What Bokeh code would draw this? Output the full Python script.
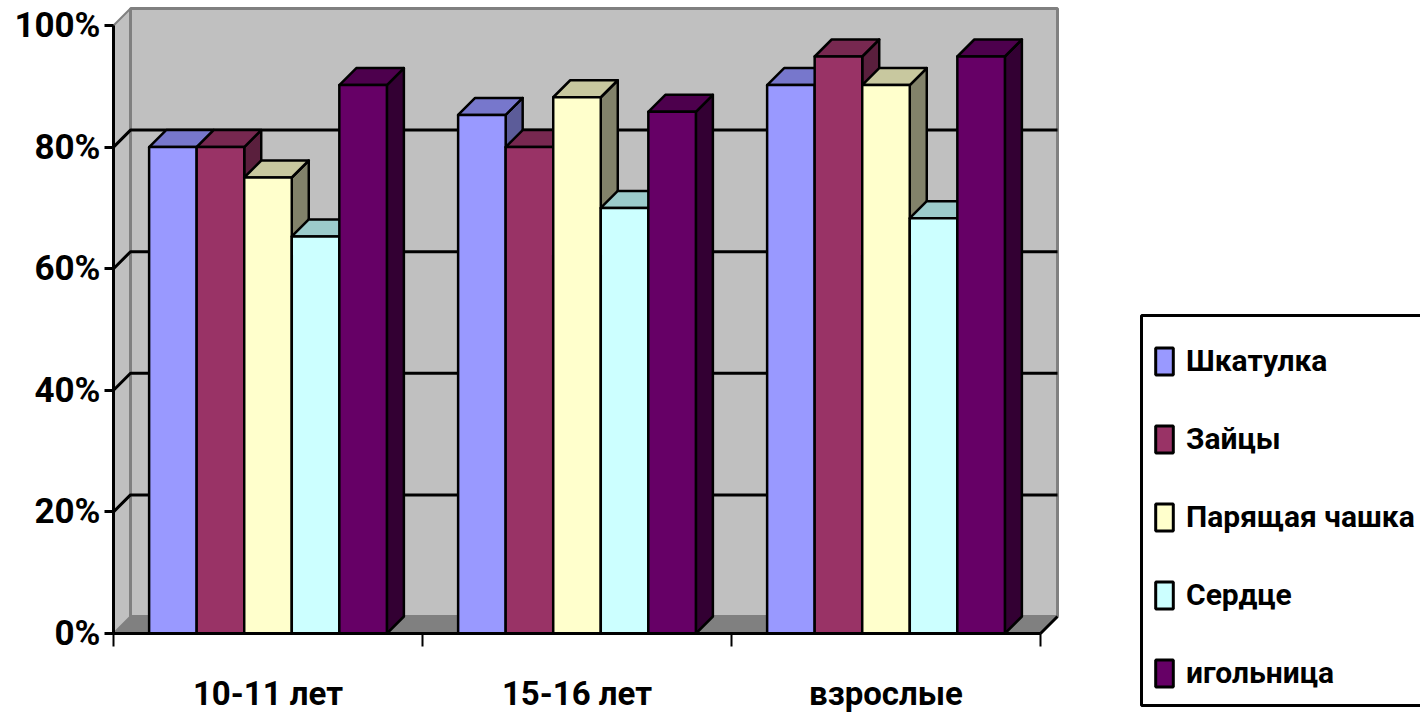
from bokeh.plotting import figure
from bokeh.embed import file_html
from bokeh.resources import INLINE
from bokeh.models import Legend, LegendItem, LinearAxis, FixedTicker, Range1d, BoxAnnotation

categories = ["10-11 лет", "15-16 лет", "взрослые"]
series = ["Шкатулка", "Зайцы", "Парящая чашка", "Сердце", "игольница"]
shkatulka = [80, 85.3, 90.2]
zaitsy = [80, 80, 94.9]
chashka = [75, 88.2, 90.2]
serdtse = [65.3, 70, 68.3]
igolnitsa = [90.2, 85.8, 94.9]
values = [shkatulka, zaitsy, chashka, serdtse, igolnitsa]
y_ticks = [0, 20, 40, 60, 80, 100]
front_colors = ["#9999FF", "#993366", "#FFFFCC", "#CCFFFF", "#660066"]
top_colors = ["#7777CC", "#772850", "#C8C89F", "#9CCBCB", "#4D004D"]
side_colors = ["#5C5C99", "#5A1F3D", "#82826A", "#7A9999", "#330033"]

FONT = "Roboto"
PX_X, PX_Y = 309.0, 6.08       # pixels per category, per percent
DX, DY = 17 / PX_X, 17 / PX_Y  # depth of the 3-D box in data units
BW = 47.55 / PX_X              # bar width
GAP = (1 - 5 * BW) / 2

W, H = 1420, 715
left, bottom = 113, 82
x_range = Range1d(-left / PX_X, (W - left) / PX_X)
y_range = Range1d(-bottom / PX_Y, (H - bottom) / PX_Y)

p = figure(width=W, height=H, output_backend="svg", toolbar_location=None,
           x_range=x_range, y_range=y_range,
           x_axis_type=None, y_axis_type=None,
           min_border_left=0, min_border_bottom=0, min_border_top=0, min_border_right=0)
p.outline_line_color = None
p.grid.visible = False
p.background_fill_color = "white"

n = len(categories)
WALL = "#C0C0C0"
EDGE = "#808080"
# left wall, back wall, floor
p.patch([0, DX, DX, 0], [0, DY, 100 + DY, 100], fill_color=WALL, line_color=EDGE, line_width=2)
p.patch([DX, n + DX, n + DX, DX], [DY, DY, 100 + DY, 100 + DY], fill_color=WALL, line_color=EDGE, line_width=3)
p.patch([0, n, n + DX, DX], [0, 0, DY, DY], fill_color=EDGE, line_color=EDGE, line_width=1)
p.line([n, n + DX], [0, DY], line_color="black", line_width=3)
# grid lines on the walls
for t in y_ticks[1:-1]:
    p.line([0, DX, n + DX], [t, t + DY, t + DY], line_color="black", line_width=3)

for g in range(n):
    for s in range(len(series)):
        x0 = g + GAP + s * BW
        x1 = x0 + BW
        v = values[s][g]
        p.patch([x1, x1 + DX, x1 + DX, x1], [0, DY, v + DY, v], fill_color=side_colors[s],
                line_color="black", line_width=2.5, line_join="round")
        p.patch([x0, x1, x1 + DX, x0 + DX], [v, v, v + DY, v + DY], fill_color=top_colors[s],
                line_color="black", line_width=2.5, line_join="round")
        p.patch([x0, x1, x1, x0], [0, 0, v, v], fill_color=front_colors[s],
                line_color="black", line_width=2.5, line_join="round")

# axes
yax = LinearAxis(ticker=FixedTicker(ticks=y_ticks), bounds=(0, 100), fixed_location=0,
                 major_label_overrides={t: f"{t}%" for t in y_ticks})
yax.axis_line_color = "black"
yax.axis_line_width = 3
yax.major_tick_line_color = "black"
yax.major_tick_line_width = 3
yax.major_tick_in = 0
yax.major_tick_out = 9
yax.minor_tick_line_color = None
yax.major_label_text_font = FONT
yax.major_label_text_font_style = "bold"
yax.major_label_text_font_size = "35px"
yax.major_label_text_color = "black"
yax.major_label_standoff = 4
p.add_layout(yax, "left")

centres = [i + 0.5 for i in range(n)]
xax = LinearAxis(ticker=FixedTicker(ticks=centres, minor_ticks=list(range(n + 1))), bounds=(0, n),
                 fixed_location=0,
                 major_label_overrides={c: categories[i] for i, c in enumerate(centres)})
xax.axis_line_color = "black"
xax.axis_line_width = 3
xax.major_tick_line_color = None
xax.major_tick_in = 0
xax.major_tick_out = 0
xax.minor_tick_line_color = "black"
xax.minor_tick_line_width = 2
xax.minor_tick_in = 0
xax.minor_tick_out = 13
xax.major_label_text_font = FONT
xax.major_label_text_font_style = "bold"
xax.major_label_text_font_size = "33px"
xax.major_label_text_color = "black"
xax.major_label_standoff = 27
p.add_layout(xax, "below")

# legend box (its right side runs off the page, as in the reference)
p.add_layout(BoxAnnotation(left=1141, right=1500, top=315, bottom=705,
                           left_units="canvas", right_units="canvas", top_units="canvas", bottom_units="canvas",
                           fill_color="white", fill_alpha=1, line_color="black", line_width=3, line_alpha=1))

# legend
items = []
for s, name in enumerate(series):
    r = p.quad(left=[-5], right=[-4.9], bottom=[-50], top=[-49], fill_color=front_colors[s],
               line_color="black", line_width=3)
    items.append(LegendItem(label=name, renderers=[r]))
legend = Legend(items=items, location=(1153, 25), orientation="vertical",
                border_line_color=None, background_fill_alpha=0,
                glyph_width=22, glyph_height=34, label_height=34,
                spacing=43, padding=0, margin=0, label_standoff=11,
                label_text_font=FONT, label_text_font_style="bold",
                label_text_font_size="30px", label_text_color="black")
p.add_layout(legend, "center")

open("out.html", "w").write(file_html(p, INLINE))
